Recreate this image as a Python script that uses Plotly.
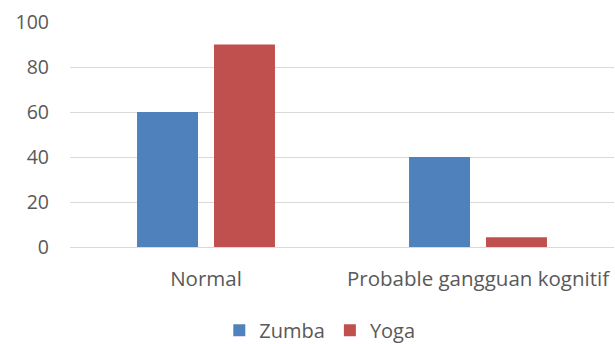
import plotly.graph_objects as go

categories = ["Normal", "Probable gangguan kognitif"]
zumba = [60, 40]
yoga = [90, 4.3]
y_ticks = [0, 20, 40, 60, 80, 100]

font_family = "'Open Sans', sans-serif"
text_color = "#595959"
grid_color = "#D9D9D9"

fig = go.Figure()
fig.add_trace(go.Bar(name="Zumba", x=categories, y=zumba, marker_color="#4F81BD",
                     marker_line_width=0))
fig.add_trace(go.Bar(name="Yoga", x=categories, y=yoga, marker_color="#C0504D",
                     marker_line_width=0))

fig.update_layout(
    width=615, height=344,
    barmode="group",
    bargap=0.434,
    bargroupgap=0.208,
    plot_bgcolor="white",
    paper_bgcolor="white",
    margin=dict(l=70, r=1, t=22, b=97, autoexpand=False),
    font=dict(family=font_family, size=19, color=text_color),
    showlegend=True,
    legend=dict(orientation="h", xref="container", yref="container",
                x=0.52, xanchor="center", y=0.04, yanchor="middle",
                font=dict(size=20, color=text_color), itemwidth=30,
                tracegroupgap=0),
)
fig.update_yaxes(
    range=[0, 100], tickvals=y_ticks, showgrid=True, gridcolor=grid_color,
    gridwidth=1, zeroline=False, showline=False, ticks="",
    ticklabelstandoff=20, tickfont=dict(size=19.5, color=text_color),
)
fig.update_xaxes(
    showline=True, linecolor=grid_color, linewidth=1, ticks="",
    tickfont=dict(size=20.5, color=text_color), ticklabelstandoff=13,
)

fig.write_html("out.html")
